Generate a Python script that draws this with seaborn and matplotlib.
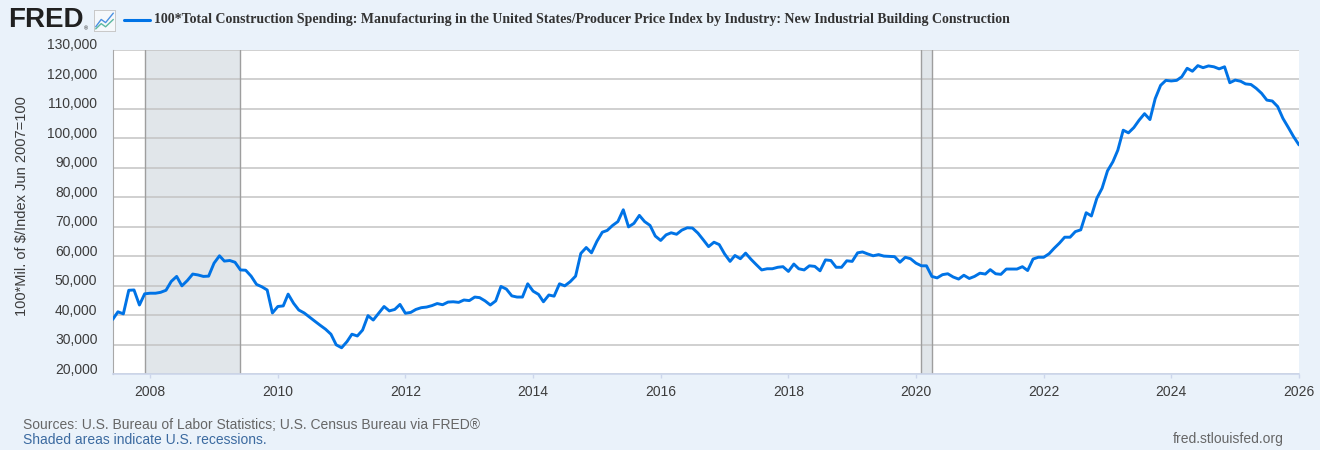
import matplotlib
matplotlib.use("Agg")
import matplotlib.pyplot as plt
import matplotlib.ticker as ticker
from matplotlib import transforms
from matplotlib.lines import Line2D
import pandas as pd
import seaborn as sns

# monthly values, Jun 2007 .. Jan 2026
y2007 = [38600, 41200, 40500, 48500, 48600, 43500, 47300]
y2008 = [47500, 47500, 47800, 48500, 51500, 53200, 50000, 51800, 54000, 53700, 53200, 53300]
y2009 = [57700, 60200, 58400, 58600, 58000, 55400, 55300, 53300, 50500, 49700, 48600, 40800]
y2010 = [43000, 43200, 47200, 44100, 41800, 40800, 39400, 38000, 36600, 35300, 33600, 30000]
y2011 = [29000, 31100, 33600, 33000, 35000, 39900, 38400, 40700, 43000, 41500, 42000, 43700]
y2012 = [40700, 41000, 42000, 42600, 42800, 43300, 44000, 43600, 44500, 44600, 44400, 45200]
y2013 = [45000, 46200, 46000, 44900, 43500, 44900, 49800, 48900, 46600, 46200, 46200, 50700]
y2014 = [48200, 47100, 44600, 46900, 46500, 50700, 50000, 51400, 53300, 61000, 63000, 61200]
y2015 = [65100, 68200, 68800, 70500, 71800, 75800, 70000, 71200, 73900, 71800, 70500, 66900]
y2016 = [65400, 67300, 68000, 67500, 68900, 69700, 69600, 67900, 65600, 63300, 64800, 64000]
y2017 = [60800, 58300, 60300, 59200, 61100, 59000, 57200, 55400, 55800, 55800, 56300, 56500]
y2018 = [54900, 57400, 55800, 55400, 56800, 56600, 55100, 58800, 58600, 56300, 56300, 58500]
y2019 = [58300, 61200, 61500, 60800, 60200, 60600, 60100, 60000, 59900, 58000, 59700, 59200]
y2020 = [57700, 56800, 56800, 53200, 52700, 53800, 54100, 53000, 52300, 53600, 52500, 53200]
y2021 = [54300, 54000, 55500, 54100, 53900, 55700, 55700, 55700, 56500, 55200, 59100, 59700]
y2022 = [59700, 60900, 62700, 64500, 66500, 66500, 68400, 69000, 74800, 73700, 79700, 83100]
y2023 = [89000, 92100, 96000, 102800, 101900, 103700, 106200, 108400, 106400, 113500, 118000, 119700]
y2024 = [119500, 119700, 120900, 123800, 122800, 124700, 124000, 124600, 124300, 123600, 124300, 118900]
y2025 = [119800, 119400, 118500, 118300, 117000, 115300, 113000, 112700, 110800, 106800, 103700, 100600]
y2026 = [97800]

recessions = [("2007-12-01", "2009-06-01"), ("2020-02-01", "2020-04-01")]
year_ticks = [2008, 2010, 2012, 2014, 2016, 2018, 2020, 2022, 2024, 2026]

title = ("100*Total Construction Spending: Manufacturing in the United States/"
         "Producer Price Index by Industry: New Industrial Building Construction")
ylabel = "100*Mil. of $/Index Jun 2007=100"

values = (y2007 + y2008 + y2009 + y2010 + y2011 + y2012 + y2013 + y2014 + y2015
          + y2016 + y2017 + y2018 + y2019 + y2020 + y2021 + y2022 + y2023
          + y2024 + y2025 + y2026)
df = pd.DataFrame({"date": pd.date_range("2007-06-01", periods=len(values), freq="MS"),
                   "value": values})

sns.set_style("white")
plt.rcParams["font.family"] = ["Liberation Sans", "DejaVu Sans"]

bg = "#eaf2fa"
blue = "#0073e6"
fig = plt.figure(figsize=(13.2, 4.5), dpi=100, facecolor=bg)
ax = fig.add_axes([112.7 / 1320, 1 - 374.3 / 450, (1299 - 112.7) / 1320, (374.3 - 50) / 450])
ax.set_facecolor("white")

for start, end in recessions:
    ax.axvspan(pd.Timestamp(start), pd.Timestamp(end), color="#e1e6ea", lw=0, zorder=0)
    ax.axvline(pd.Timestamp(start), color="#9e9e9e", lw=1, zorder=1)
    ax.axvline(pd.Timestamp(end), color="#9e9e9e", lw=1, zorder=1)

sns.lineplot(data=df, x="date", y="value", ax=ax, color=blue, lw=2.1, zorder=3)

ax.set_xlim(df["date"].iloc[0], pd.Timestamp("2026-01-01"))
ax.set_ylim(20000, 130000)
ax.set_yticks(range(20000, 130001, 10000))
ax.yaxis.set_major_formatter(ticker.FuncFormatter(lambda v, _: f"{v:,.0f}"))
ax.set_xticks([pd.Timestamp(f"{y}-01-01") for y in year_ticks])
ax.set_xticklabels([str(y) for y in year_ticks])
ax.set_xlabel("")
ax.set_ylabel("")

ax.set_axisbelow(True)
ax.grid(axis="y", color="#c4c4c4", lw=1.1)
ax.grid(axis="x", visible=False)
for side in ["top", "right"]:
    ax.spines[side].set_visible(False)
ax.spines["left"].set_color("#a8a8a8")
ax.spines["bottom"].set_color("#ccd6eb")
ax.spines["bottom"].set_linewidth(1.2)

ax.tick_params(axis="x", colors="#ccd6eb", labelcolor="#3c3c3c", length=3,
               width=1, pad=5, labelsize=10, bottom=True)
ax.tick_params(axis="y", length=0, pad=11, labelcolor="#3c3c3c", labelsize=10, left=False)
shift = transforms.ScaledTranslation(0, 4.5 / 72, fig.dpi_scale_trans)
for lab in ax.get_yticklabels():
    lab.set_transform(lab.get_transform() + shift)

fig.text(22.5 / 1320, 1 - 206 / 450, ylabel, rotation=90, ha="center", va="center",
         fontsize=10.5, color="#3c3c3c")

# header: logo, legend key, title
fig.text(8 / 1320, 1 - 20 / 450, "FRED", fontsize=20, fontweight="bold",
         color="#202020", va="center", ha="left")
fig.text(84 / 1320, 1 - 29 / 450, "®", fontsize=4, color="#202020", va="center")
iax = fig.add_axes([93.5 / 1320, 1 - 31 / 450, 22 / 1320, 21 / 450])
iax.set_facecolor("#f5f8fb")
iax.plot([0.1, 0.35, 0.55, 0.9], [0.2, 0.55, 0.4, 0.85], color="#4a90e2", lw=1)
iax.plot([0.1, 0.35, 0.55, 0.9], [0.1, 0.35, 0.2, 0.55], color="#5cb8a0", lw=1)
iax.set_xlim(0, 1)
iax.set_ylim(0, 1)
iax.set_xticks([])
iax.set_yticks([])
for s in iax.spines.values():
    s.set_color("#c8c8c8")
    s.set_linewidth(0.7)
fig.add_artist(Line2D([124 / 1320, 150 / 1320], [1 - 20 / 450, 1 - 20 / 450],
                      color=blue, lw=2.2, transform=fig.transFigure))
fig.text(154 / 1320, 1 - 20 / 450, title, family=["Liberation Serif", "DejaVu Serif"],
         fontweight="bold", fontsize=10, color="#333333", va="center", ha="left")

# footer
fig.text(23 / 1320, 1 - 425 / 450, "Sources: U.S. Bureau of Labor Statistics; U.S. Census Bureau via FRED®",
         fontsize=10, color="#666666", va="center")
fig.text(23 / 1320, 1 - 440 / 450, "Shaded areas indicate U.S. recessions.",
         fontsize=10, color="#3b6aa0", va="center")
fig.text(1284 / 1320, 1 - 439 / 450, "fred.stlouisfed.org", fontsize=10,
         color="#666666", va="center", ha="right")

fig.savefig("out.png", dpi=100, facecolor=bg)
